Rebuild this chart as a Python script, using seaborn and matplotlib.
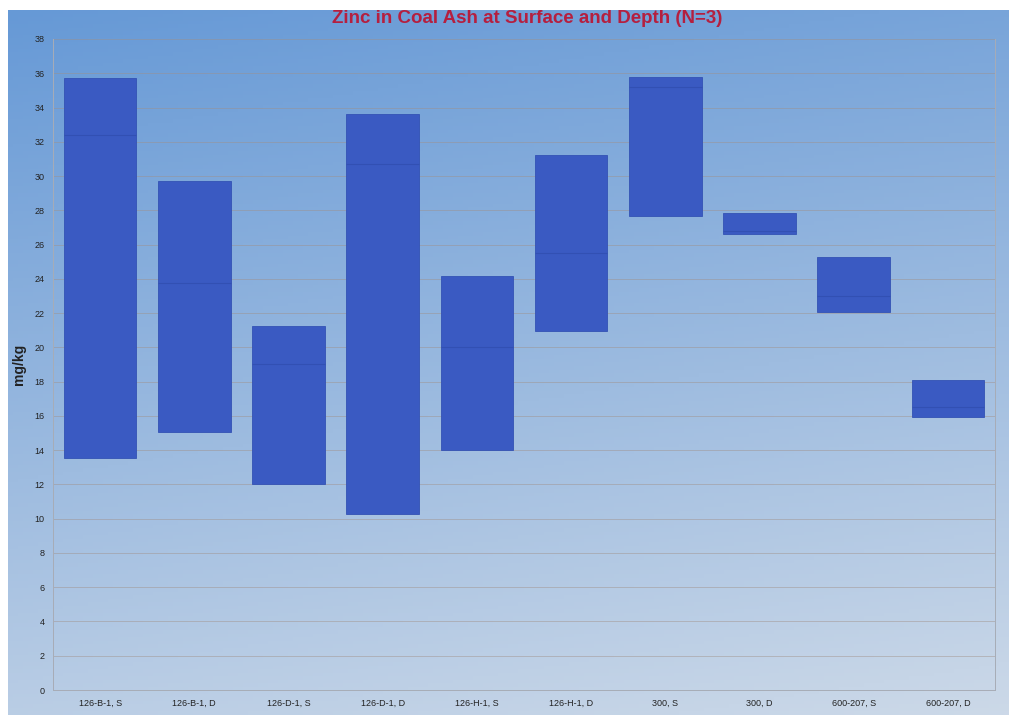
import numpy as np
import pandas as pd
import matplotlib
matplotlib.use("Agg")
import matplotlib.pyplot as plt
import seaborn as sns

# Zinc concentrations (mg/kg) per sample location and layer: range and median of N=3
sites = ["126-B-1, S", "126-B-1, D", "126-D-1, S", "126-D-1, D", "126-H-1, S",
         "126-H-1, D", "300, S", "300, D", "600-207, S", "600-207, D"]
zinc_min = [13.55, 15.05, 12.05, 10.25, 14.0, 20.95, 27.65, 26.6, 22.05, 15.95]
zinc_max = [35.75, 29.7, 21.25, 33.65, 24.15, 31.25, 35.8, 27.85, 25.3, 18.1]
zinc_median = [32.4, 23.75, 19.05, 30.7, 20.05, 25.5, 35.2, 26.8, 23.0, 16.5]

y_ticks = list(range(0, 40, 2))

df = pd.DataFrame({"site": sites, "low": zinc_min, "high": zinc_max, "median": zinc_median})

sns.set_theme(style="white")
plt.rcParams["font.family"] = ["Liberation Sans", "DejaVu Sans"]

fig = plt.figure(figsize=(10.09, 7.15), dpi=100)
fig.patch.set_facecolor("white")

# Gradient backdrop behind the chart
bg = fig.add_axes([0.008, 0.0, 0.992, 0.986])
bg.set_axis_off()
gy, gx = np.mgrid[0:1:200j, 0:1:200j]
t = np.clip(0.82 * gy + 0.18 * gx, 0, 1)
top = np.array([0.40, 0.60, 0.84])
bottom = np.array([0.80, 0.85, 0.91])
grad = top[None, None, :] * (1 - t[..., None]) + bottom[None, None, :] * t[..., None]
bg.imshow(grad, aspect="auto", extent=[0, 1, 0, 1], origin="upper")
bg.set_xlim(0, 1)
bg.set_ylim(0, 1)

ax = fig.add_axes([53 / 1009, 1 - 690 / 715, 942 / 1009, 651 / 715])
ax.patch.set_alpha(0.0)

sns.barplot(data=df, x="site", y="high", color="#3a5ac2", saturation=1,
            width=0.77, ax=ax, edgecolor="#3352b4", linewidth=0.6, zorder=3)

# Turn each bar into a floating min-max range
for patch, lo, hi in zip(ax.patches, df["low"], df["high"]):
    patch.set_y(lo)
    patch.set_height(hi - lo)

# Faint median marks inside each range
for patch, med in zip(ax.patches, df["median"]):
    x0 = patch.get_x()
    ax.hlines(med, x0, x0 + patch.get_width(), color="#2f4cae", linewidth=0.8,
              alpha=0.7, zorder=4)

ax.set_xlim(-0.5, len(sites) - 0.5)
ax.set_ylim(0, 38)
ax.set_yticks(y_ticks)
ax.set_yticklabels([str(v) for v in y_ticks], fontsize=6.5, color="#222222")
ax.set_xticks(range(len(sites)))
ax.set_xticklabels(sites, fontsize=6.5, color="#222222")
ax.tick_params(axis="both", length=0, pad=6)
ax.grid(axis="y", color="#a08f86", linewidth=0.7, alpha=0.45, zorder=0)
ax.set_axisbelow(True)
for side in ["right", "left", "bottom"]:
    ax.spines[side].set_visible(True)
    ax.spines[side].set_color("#a7acb6")
    ax.spines[side].set_linewidth(0.7)
ax.spines["top"].set_visible(False)

ax.set_xlabel("")
ax.set_ylabel("mg/kg", fontsize=10, fontweight="bold", color="#222222", labelpad=6)

fig.text(0.522, 0.974, "Zinc in Coal Ash at Surface and Depth (N=3)", ha="center", va="center",
         fontsize=13.5, fontweight="bold", color="#b51f3f")

fig.savefig("out.png", dpi=100)
